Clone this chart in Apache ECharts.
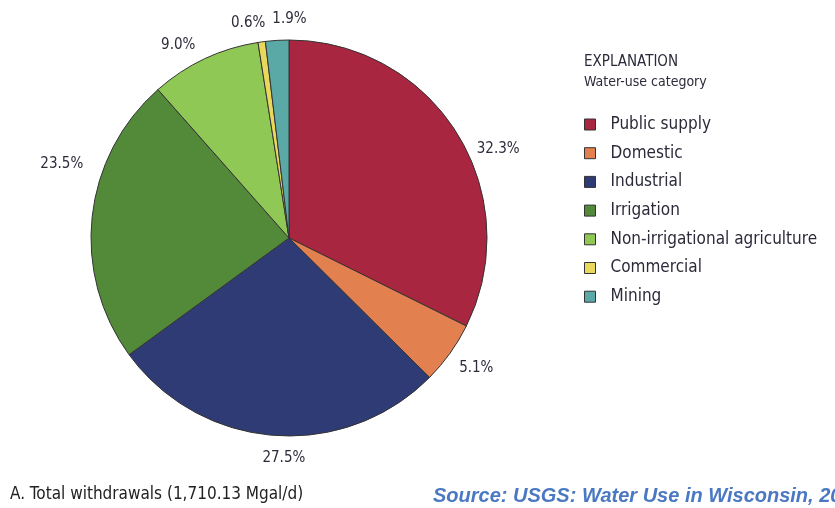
<!DOCTYPE html>
<html>
<head>
<meta charset="utf-8">
<script src="https://cdn.jsdelivr.net/npm/echarts@6/dist/echarts.min.js"></script>
<style>
html,body{margin:0;padding:0;background:#fff;}
#main{width:835px;height:508px;}
</style>
</head>
<body>
<div id="main"></div>
<script>
// water-use categories, clockwise from 12 o'clock
const categories = ['Public supply', 'Domestic', 'Industrial', 'Irrigation', 'Non-irrigational agriculture', 'Commercial', 'Mining'];
const shares = [32.3, 5.1, 27.5, 23.5, 9.0, 0.6, 1.9];
const colors = ['#A8263F', '#E2814F', '#2F3B74', '#538A3A', '#90C855', '#E9D85C', '#5BA9A7'];
// nudges for the hand-placed percentage labels
const labelNudge = [[6, 21], [-4, 9], [37, 13], [6, -51], [0, -5], [10, -9], [35, -11]];

const narrow = '"Liberation Sans Narrow", "DejaVu Sans Condensed", "Liberation Sans", sans-serif';

const chart = echarts.init(document.getElementById('main'));
chart.setOption({
    animation: false,
    color: colors,
    title: [
        {
            text: 'EXPLANATION',
            subtext: 'Water-use category',
            left: 584, top: 55,
            padding: 0,
            itemGap: 5,
            textStyle: {fontFamily: narrow, fontSize: 15, fontWeight: 'normal', color: '#2b2b3a'},
            subtextStyle: {fontFamily: narrow, fontSize: 14, color: '#2b2b3a'}
        },
        {
            text: 'A. Total withdrawals (1,710.13 Mgal/d)',
            left: 10, top: 486,
            padding: 0,
            textStyle: {fontFamily: narrow, fontSize: 17, fontWeight: 'normal', color: '#222'}
        },
        {
            text: 'Source: USGS: Water Use in Wisconsin, 2015',
            left: 433, top: 486,
            padding: 0,
            textStyle: {fontFamily: '"Liberation Sans", Arial, sans-serif', fontSize: 20, fontStyle: 'italic', fontWeight: 'bold', color: '#4a78c2'}
        }
    ],
    legend: {
        orient: 'vertical',
        left: 584, top: 116,
        padding: 0,
        icon: 'rect',
        itemWidth: 11, itemHeight: 11,
        itemGap: 11.7,
        selectedMode: false,
        itemStyle: {borderColor: '#333', borderWidth: 1},
        textStyle: {fontFamily: narrow, fontSize: 17, color: '#2b2b3a', padding: [0, 0, 0, 10]},
        data: categories
    },
    series: [{
        type: 'pie',
        center: [289, 238],
        radius: 198,
        startAngle: 90,
        clockwise: true,
        avoidLabelOverlap: false,
        itemStyle: {borderColor: '#333', borderWidth: 1},
        label: {
            show: true,
            position: 'outside',
            formatter: p => p.value.toFixed(1) + '%',
            fontFamily: narrow,
            fontSize: 15,
            color: '#2b2b3a'
        },
        labelLine: {show: false, length: 10, length2: 0},
        labelLayout: {hideOverlap: false},
        emphasis: {disabled: true},
        data: categories.map((c, i) => ({
            name: c,
            value: shares[i],
            label: {offset: labelNudge[i]}
        }))
    }]
});
</script>
</body>
</html>
